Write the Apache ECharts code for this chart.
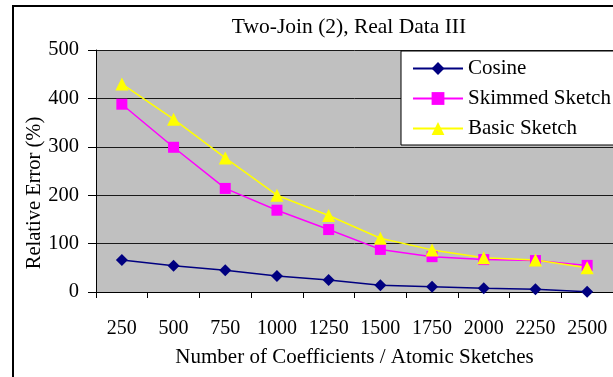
<!DOCTYPE html>
<html>
<head>
<meta charset="utf-8">
<script src="https://cdn.jsdelivr.net/npm/echarts@6/dist/echarts.min.js"></script>
<style>
  html, body { margin: 0; padding: 0; background: #fff; }
  #chart { width: 613px; height: 377px; }
</style>
</head>
<body>
<div id="chart"></div>
<script>
// Sample sizes on the x axis
const categories = ['250', '500', '750', '1000', '1250', '1500', '1750', '2000', '2250', '2500'];

// Relative error (%) per method
const cosine = [66, 54, 45, 33, 25, 14, 11, 8, 5.5, 0.5];
const skimmedSketch = [388, 299, 214, 169, 129, 88, 73, 67, 65, 55];
const basicSketch = [430, 357, 277, 200, 158, 111, 87, 71, 66, 50];

const yTicks = { min: 0, max: 500, interval: 100 };

const FONT = "'Liberation Serif', 'Times New Roman', serif";

const chart = echarts.init(document.getElementById('chart'), null, { renderer: 'canvas' });

const makeSeries = (name, data, color, symbol, size) => ({
  name,
  type: 'line',
  data,
  symbol,
  symbolSize: size,
  showAllSymbol: true,
  lineStyle: { color, width: 1.5 },
  itemStyle: { color, borderWidth: 0 },
  emphasis: { disabled: true },
  animation: false
});

chart.setOption({
  backgroundColor: '#ffffff',
  animation: false,
  grid: {
    left: 96,
    top: 50,
    width: 523,
    height: 242,
    show: true,
    backgroundColor: '#c0c0c0',
    borderWidth: 0
  },
  legend: {
    orient: 'vertical',
    left: 401,
    top: 51,
    align: 'left',
    itemWidth: 50,
    itemHeight: 16,
    itemGap: 9,
    padding: [7, 12, 6, 11],
    backgroundColor: '#ffffff',
    borderColor: '#000000',
    borderWidth: 1,
    textStyle: { fontFamily: FONT, fontSize: 21, color: '#000' },
    data: ['Cosine', 'Skimmed Sketch', 'Basic Sketch']
  },
  xAxis: {
    type: 'category',
    data: categories,
    boundaryGap: true,
    name: 'Number of Coefficients / Atomic Sketches',
    nameLocation: 'middle',
    nameGap: 55,
    nameTextStyle: { fontFamily: FONT, fontSize: 21, color: '#000' },
    axisLine: { lineStyle: { color: '#000', width: 1 } },
    axisTick: { show: true, inside: false, length: 6, alignWithLabel: false, lineStyle: { color: '#000' } },
    axisLabel: { fontFamily: FONT, fontSize: 20, color: '#000', margin: 27, interval: 0 },
    splitLine: { show: false }
  },
  yAxis: {
    type: 'value',
    min: yTicks.min,
    max: yTicks.max,
    interval: yTicks.interval,
    axisLine: { show: true, lineStyle: { color: '#000', width: 1 } },
    axisTick: { show: true, inside: false, length: 8, lineStyle: { color: '#000' } },
    axisLabel: { fontFamily: FONT, fontSize: 20.5, color: '#000', margin: 17 },
    splitLine: { show: true, lineStyle: { color: '#1a1a1a', width: 1 } }
  },
  graphic: [
    {
      type: 'rect',
      shape: { x: 13, y: 6, width: 700, height: 500 },
      style: { fill: 'none', stroke: '#000', lineWidth: 2 },
      silent: true,
      z: 100
    },
    {
      type: 'text',
      x: 349,
      y: 27,
      style: {
        text: 'Two-Join (2), Real Data III',
        font: '21.5px ' + FONT,
        fill: '#000',
        textAlign: 'center',
        textVerticalAlign: 'middle'
      }
    },
    {
      type: 'text',
      x: 35,
      y: 193,
      rotation: Math.PI / 2,
      style: {
        text: 'Relative Error (%)',
        font: '20.5px ' + FONT,
        fill: '#000',
        textAlign: 'center',
        textVerticalAlign: 'middle'
      }
    }
  ],
  series: [
    makeSeries('Cosine', cosine, '#000080', 'diamond', 12),
    makeSeries('Skimmed Sketch', skimmedSketch, '#ff00ff', 'rect', 11),
    makeSeries('Basic Sketch', basicSketch, '#ffff00', 'triangle', 13)
  ]
});
</script>
</body>
</html>
